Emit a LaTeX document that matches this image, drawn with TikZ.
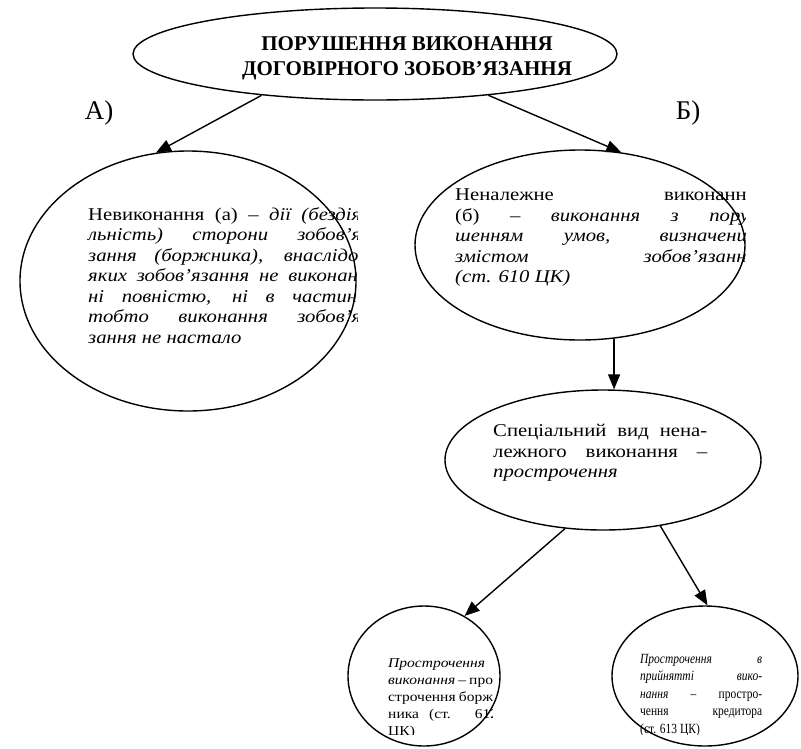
\documentclass[tikz,border=0pt]{standalone}
\usepackage{fontspec}
\setmainfont{Liberation Serif}
\newfontfamily\condfont[FakeStretch=0.82]{Liberation Serif}
\newfontfamily\widefont[FakeStretch=1.15]{Liberation Serif}
\usetikzlibrary{arrows.meta,shapes.geometric}
\newcommand{\jl}[2]{\makebox[#1][s]{#2}\\}
\newcommand{\bodyfont}{\widefont\fontsize{18}{20.5}\selectfont}
\begin{document}
\begin{tikzpicture}[x=1pt,y=-1pt,
  ell/.style={draw, ellipse, line width=1.4pt, inner sep=0pt},
  arr/.style={-{Triangle[length=15pt,width=12pt]}, line width=1.4pt},
  txt/.style={anchor=north west, inner sep=0pt, align=left},
]
\fill[white] (0,0) rectangle (801,748);
\useasboundingbox (0,0) rectangle (801,748);

% ellipses
\node[ell, minimum width=484pt, minimum height=92pt] (top) at (375,54) {};
\node[ell, minimum width=336pt, minimum height=260pt] (A) at (188,281) {};
\node[ell, minimum width=330pt, minimum height=190pt] (B) at (580,245) {};
\node[ell, minimum width=316pt, minimum height=140pt] (M) at (603,460) {};
\node[ell, minimum width=152pt, minimum height=140pt] (BL) at (424,676) {};
\node[ell, minimum width=186pt, minimum height=140pt] (BR) at (705,676) {};

% title
\node[font=\fontsize{21}{25}\selectfont\bfseries, align=center, inner sep=0pt] (toptext) at (407,58)
  {ПОРУШЕННЯ ВИКОНАННЯ\\ДОГОВІРНОГО ЗОБОВ’ЯЗАННЯ};

\node[font=\fontsize{27}{30}\selectfont, inner sep=0pt] (la) at (99,113) {А)};
\node[font=\fontsize{27}{30}\selectfont, inner sep=0pt] (lb) at (688,113) {Б)};

% arrows
\draw[arr] (top.200) -- (A.104);
\draw[arr] (top.340) -- (B.66);
\draw[arr] (B.290) -- (B.290 |- M.north);
\draw[arr] (M.241) -- (BL.56);
\draw[arr] (M.311) -- (BR.88);

% left text
\begin{scope}
\clip (86,195) rectangle (357,365);
\node[txt, font=\bodyfont] (ta) at (88,207) {%
\jl{280pt}{Невиконання (а) – \textit{дії (бездія-}}%
\jl{280pt}{\textit{льність) сторони зобов’я-}}%
\jl{280pt}{\textit{зання (боржника), внаслідок}}%
\jl{280pt}{\textit{яких зобов’язання не виконано}}%
\jl{280pt}{\textit{ні повністю, ні в частині,}}%
\jl{280pt}{\textit{тобто виконання зобов’я-}}%
\textit{зання не настало}};
\end{scope}

% right text
\begin{scope}
\clip (453,180) rectangle (745,300);
\node[txt, font=\bodyfont] (tb) at (455,189) {%
\jl{301pt}{Неналежне виконання}%
\jl{301pt}{(б) – \textit{виконання з пору-}}%
\jl{301pt}{\textit{шенням умов, визначених}}%
\jl{301pt}{\textit{змістом зобов’язання}}%
\textit{(ст. 610 ЦК)}};
\end{scope}

% middle text
\node[txt, font=\bodyfont] (tm) at (493,424) {%
\jl{214pt}{Спеціальний вид нена-}%
\jl{214pt}{лежного виконання –}%
\textit{прострочення}};

% bottom left text
\begin{scope}
\clip (386,645) rectangle (492,734);
\node[txt, font=\widefont\fontsize{13.5}{17}\selectfont] (tbl) at (388,658) {%
\textit{Прострочення}\\%
\jl{110pt}{\textit{виконання} – про-}%
\jl{110pt}{строчення борж-}%
\jl{110pt}{ника (ст. 612}%
ЦК)};
\end{scope}

% bottom right text
\begin{scope}
\clip (630,645) rectangle (780,734);
\node[txt, font=\condfont\fontsize{14}{17.5}\selectfont] (tbr) at (640,654) {%
\jl{122pt}{\textit{Прострочення в}}%
\jl{122pt}{\textit{прийнятті вико-}}%
\jl{122pt}{\textit{нання} – простро-}%
\jl{122pt}{чення кредитора}%
(ст. 613 ЦК)};
\end{scope}
\end{tikzpicture}
\end{document}
